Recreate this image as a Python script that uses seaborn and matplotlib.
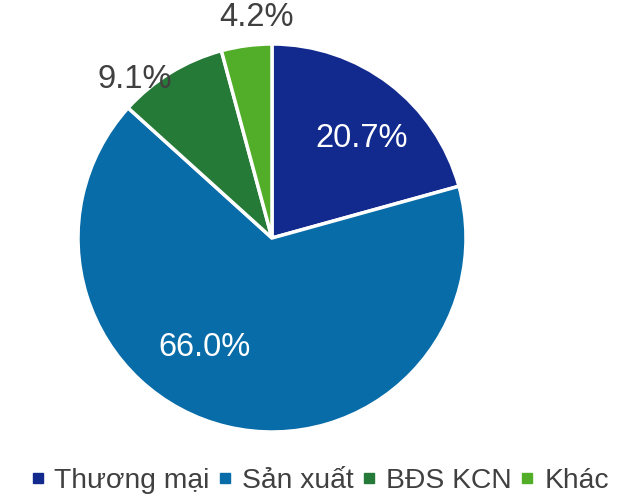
import numpy as np
import matplotlib
matplotlib.use("Agg")
import matplotlib.pyplot as plt
import seaborn as sns
from matplotlib.lines import Line2D

sns.set_style("white")
plt.rcParams['font.family'] = ['Liberation Sans', 'DejaVu Sans']

categories = ['Thương mại', 'Sản xuất', 'BĐS KCN', 'Khác']
shares = [20.7, 66.0, 9.1, 4.2]
colors = ['#12298D', '#086CA8', '#267A38', '#52AE28']
label_colors = ['white', 'white', '#404040', '#404040']
# label placement (angle in degrees, distance in radii)
label_pos = [(48, 0.69), (-121.6, 0.66), (131, 1.08), (94, 1.14)]

fig = plt.figure(figsize=(6.44, 4.98), dpi=100)
W, H = 644, 498
cx, cy, r = 272, 238, 194
ax = fig.add_axes([(cx - r) / W, (H - cy - r) / H, 2 * r / W, 2 * r / H])

wedges, texts, autotexts = ax.pie(
    shares, colors=colors, startangle=90, counterclock=False,
    autopct='%.1f%%', pctdistance=0.7, radius=1,
    wedgeprops=dict(edgecolor='white', linewidth=2.5),
    textprops=dict(fontsize=23.5))
for t, c, (ang, d) in zip(autotexts, label_colors, label_pos):
    t.set_color(c)
    a = np.deg2rad(ang)
    t.set_position((d * np.cos(a), d * np.sin(a)))
    t.set_clip_on(False)
ax.set_xlim(-1, 1)
ax.set_ylim(-1, 1)
ax.set_aspect('equal')
ax.axis('off')

handles = [Line2D([0], [0], marker='s', linestyle='', markersize=6.5,
                  markerfacecolor=c, markeredgecolor=c) for c in colors]
leg = fig.legend(handles, categories, loc='center', bbox_to_anchor=(319 / W, 1 - 481 / H),
                 ncol=4, frameon=False, fontsize=20.3, handlelength=0.6,
                 handletextpad=0.3, columnspacing=0.25, labelcolor='#404040',
                 borderaxespad=0, borderpad=0)

fig.savefig('out.png', dpi=100)
